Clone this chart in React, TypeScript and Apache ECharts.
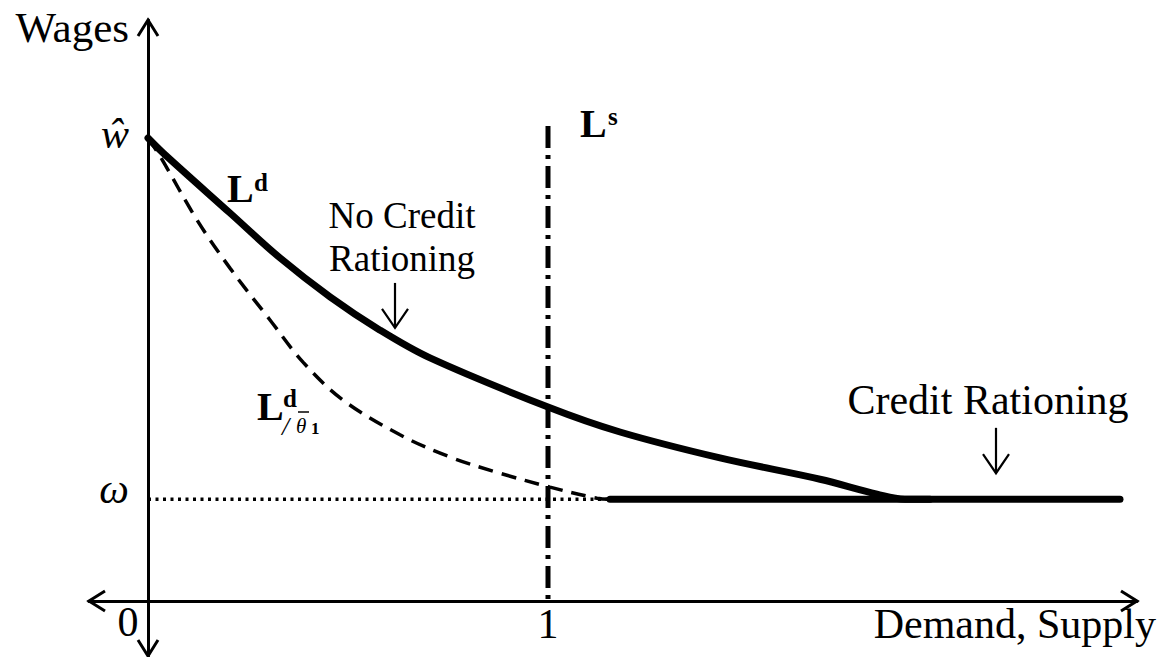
import React, { useEffect, useRef } from "react";
import * as echarts from "echarts";

// ---- data (x = Demand/Supply, y = Wages; ŵ normalised to 1) ----
const W_HAT = 1.0;
const OMEGA = 0.22;
const X_MIN = -0.1475;
const X_MAX = 2.4725;
const Y_MIN = -0.1188;
const Y_MAX = 1.2549;

const LD_X = [0, 0.0375, 0.205, 0.33, 0.455, 0.58, 0.705, 1.0, 1.18, 1.43, 1.68, 1.8225, 1.8925, 1.955];
const LD_Y = [W_HAT, 0.968, 0.838, 0.741, 0.657, 0.585, 0.525, 0.419, 0.365, 0.309, 0.263, 0.231, OMEGA, OMEGA];

const LDT_X = [0, 0.03, 0.1225, 0.205, 0.305, 0.3875, 0.4875, 0.63, 0.755, 0.88, 1.005, 1.1225, 1.155];
const LDT_Y = [W_HAT, 0.961, 0.823, 0.719, 0.607, 0.516, 0.434, 0.359, 0.311, 0.276, 0.246, 0.222, OMEGA];

const RATIONED_X = [1.155, 2.43];
const OMEGA_LINE_X = [0, 1.155];
const LS_X = 1;
const LS_Y = [1.026, 0];

// axis arrow tips: [x, y, dirX, dirY]
const AXIS_ARROWS = [
  [X_MAX, 0, 1, 0],
  [X_MIN, 0, -1, 0],
  [0, Y_MAX, 0, 1],
  [0, Y_MIN, 0, -1],
];
// pointer arrows: [x, yTop, yBottom]
const POINTERS = [
  [0.6175, 0.687, 0.59],
  [2.12, 0.374, 0.276],
];

const SERIF = "Liberation Serif, DejaVu Serif, serif";

function txt(text: string, x: number, baseline: number, size: number, align = "left", weight = "normal", fstyle = "normal") {
  return {
    type: "text",
    x,
    y: baseline - 0.3375 * size,
    silent: true,
    style: {
      text,
      fontFamily: SERIF,
      fontSize: size,
      fontWeight: weight,
      fontStyle: fstyle,
      align,
      verticalAlign: "middle",
      fill: "#000",
    },
  };
}

export default function App() {
  const ref = useRef<HTMLDivElement>(null);
  useEffect(() => {
    if (!ref.current) return;
    const chart = echarts.init(ref.current, undefined, { renderer: "svg" });
    const zip = (xs: number[], ys: number[]) => xs.map((x, i) => [x, ys[i]]);
    const option: any = {
      animation: false,
      backgroundColor: "#fff",
      grid: { left: 89, right: 24, top: 20, bottom: 1, containLabel: false },
      xAxis: {
        type: "value",
        min: X_MIN,
        max: X_MAX,
        axisLine: { show: true, onZero: true, lineStyle: { color: "#000", width: 3 } },
        axisTick: { show: false },
        axisLabel: { show: false },
        splitLine: { show: false },
      },
      yAxis: {
        type: "value",
        min: Y_MIN,
        max: Y_MAX,
        axisLine: { show: true, onZero: true, lineStyle: { color: "#000", width: 3 } },
        axisTick: { show: false },
        axisLabel: { show: false },
        splitLine: { show: false },
      },
      series: [
        {
          type: "line",
          data: OMEGA_LINE_X.map((x) => [x, OMEGA]),
          showSymbol: false,
          lineStyle: { color: "#000", width: 3.5, type: [3, 4.5] },
        },
        {
          type: "line",
          data: LS_Y.map((y) => [LS_X, y]),
          showSymbol: false,
          lineStyle: { color: "#000", width: 5, type: [22, 7, 4, 7] },
        },
        {
          type: "line",
          data: zip(LDT_X, LDT_Y),
          smooth: 0.35,
          showSymbol: false,
          lineStyle: { color: "#000", width: 3.5, type: [15, 9] },
        },
        {
          type: "line",
          data: zip(LD_X, LD_Y),
          smooth: 0.35,
          showSymbol: false,
          lineStyle: { color: "#000", width: 7, cap: "round", join: "round" },
        },
        {
          type: "line",
          data: RATIONED_X.map((x) => [x, OMEGA]),
          showSymbol: false,
          lineStyle: { color: "#000", width: 7, cap: "round" },
        },
        {
          type: "custom",
          data: AXIS_ARROWS,
          clip: false,
          renderItem: (params: any, api: any) => {
            const p = api.coord([api.value(0), api.value(1)]);
            const dx = api.value(2);
            const dy = -api.value(3);
            const back = 16, spread = 10;
            const a1 = [p[0] - dx * back - dy * spread, p[1] - dy * back + dx * spread];
            const a2 = [p[0] - dx * back + dy * spread, p[1] - dy * back - dx * spread];
            return {
              type: "polyline",
              shape: { points: [a1, p, a2] },
              style: { stroke: "#000", lineWidth: 3, fill: "none" },
            };
          },
        },
        {
          type: "custom",
          data: POINTERS,
          clip: false,
          renderItem: (params: any, api: any) => {
            const top = api.coord([api.value(0), api.value(1)]);
            const bot = api.coord([api.value(0), api.value(2)]);
            return {
              type: "group",
              children: [
                { type: "line", shape: { x1: top[0], y1: top[1], x2: bot[0], y2: bot[1] }, style: { stroke: "#000", lineWidth: 2.2 } },
                {
                  type: "polyline",
                  shape: { points: [[bot[0] - 13, bot[1] - 19], [bot[0], bot[1]], [bot[0] + 13, bot[1] - 19]] },
                  style: { stroke: "#000", lineWidth: 2.2, fill: "none" },
                },
              ],
            };
          },
        },
      ],
      graphic: [
        txt("Wages", 129, 42, 43, "right"),
        txt("ŵ", 115, 148, 42, "center", "normal", "italic"),
        txt("ω", 114, 503, 42, "center", "normal", "italic"),
        txt("0", 128, 636, 42, "center"),
        txt("1", 548, 638, 42, "center"),
        txt("Demand, Supply", 1156, 638, 42, "right"),
        txt("No Credit", 402, 228, 37, "center"),
        txt("Rationing", 402, 271, 37, "center"),
        txt("Credit Rationing", 988, 414, 42, "center"),
        txt("L", 227, 202, 40, "left", "bold"),
        txt("d", 254, 191, 25, "left", "bold"),
        txt("L", 580, 137, 40, "left", "bold"),
        txt("s", 608, 125, 25, "left", "bold"),
        txt("L", 257, 420, 40, "left", "bold"),
        txt("d", 283, 407, 25, "left", "bold"),
        txt("/", 282, 435, 26, "left", "normal", "italic"),
        txt("θ", 296, 433, 21, "left", "normal", "italic"),
        { type: "line", silent: true, shape: { x1: 298, y1: 412, x2: 309, y2: 412 }, style: { stroke: "#000", lineWidth: 1.5 } },
        txt("1", 311, 434, 17, "left", "bold"),
      ],
    };
    chart.setOption(option);
    return () => chart.dispose();
  }, []);
  return <div ref={ref} style={{ position: "fixed", left: 0, top: 0, width: 1161, height: 657, background: "#fff" }} />;
}
